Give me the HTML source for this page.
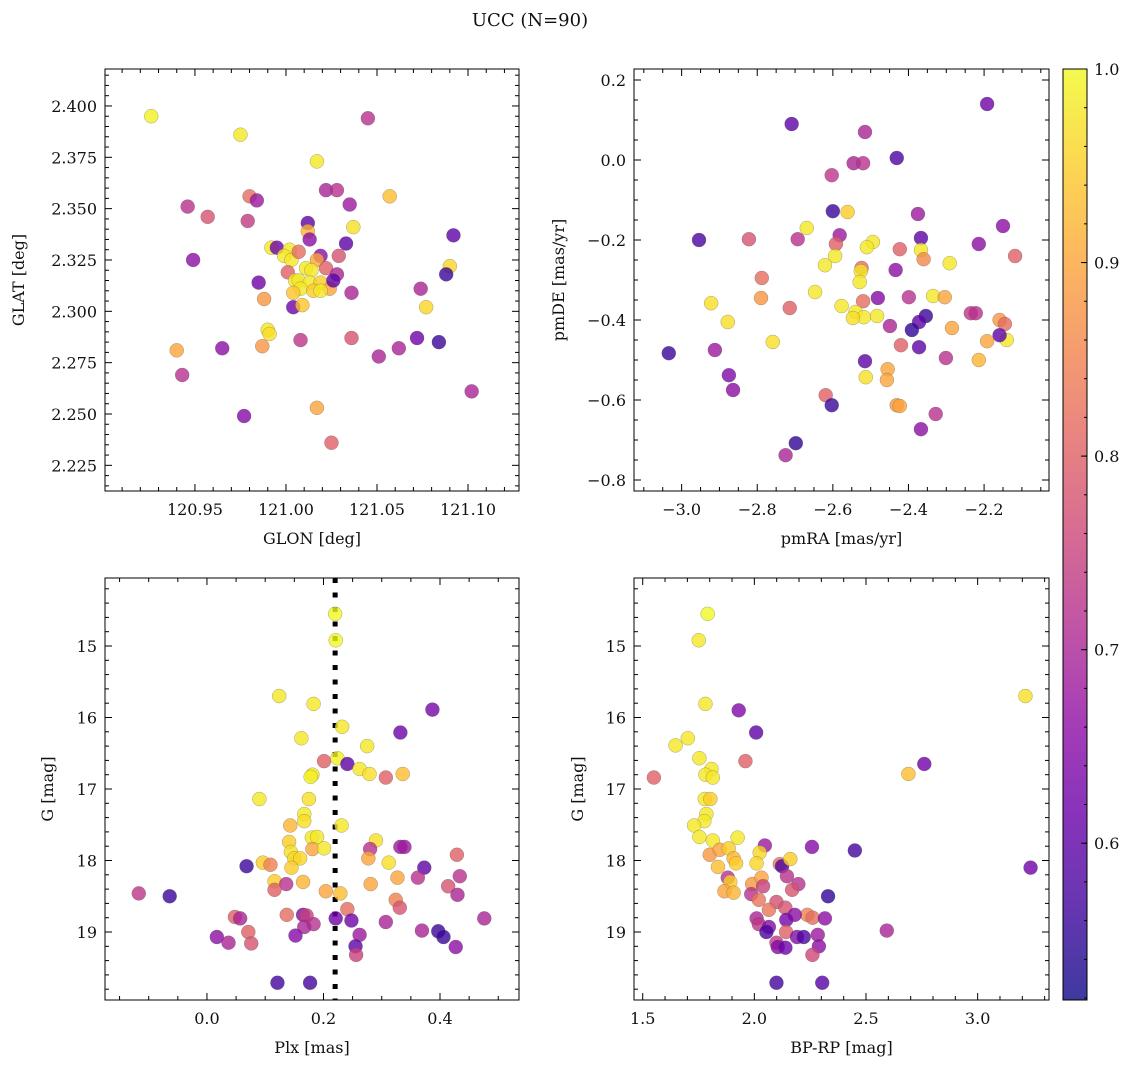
<!DOCTYPE html>
<html><head><meta charset="utf-8"><style>
body{margin:0;background:#fff;}
svg text{font-family:"DejaVu Serif","Liberation Serif",serif;fill:#111;}
</style></head><body>
<svg id="fig" width="1136" height="1068" viewBox="0 0 1136 1068" xmlns="http://www.w3.org/2000/svg">
<text x="530" y="26" font-size="18" text-anchor="middle">UCC (N=90)</text>
</svg>
<script>
// ---- Panel 1: GLON vs GLAT ----
const p1x=[120.926,120.975,121.045,121.017,120.946,120.957,120.980,120.984,120.979,120.949,121.022,121.028,121.035,121.057,121.037,121.012,121.012,121.013,121.033,121.092,121.090,121.074,121.077,121.088,121.008,121.036,121.072,121.084,120.965,121.062,121.051,120.940,120.943,121.102,121.017,120.977,121.025,120.990,120.991,120.987,
120.992,120.995,121.002,120.999,121.003,121.007,121.029,121.019,121.017,121.022,121.028,121.011,121.014,121.001,121.005,121.007,121.013,121.019,121.024,121.026,121.008,121.015,121.004,120.985,120.988,121.036,121.004,121.009,121.019];
const p1y=[2.395,2.386,2.394,2.373,2.351,2.346,2.356,2.354,2.344,2.325,2.359,2.359,2.352,2.356,2.341,2.343,2.339,2.335,2.333,2.337,2.322,2.311,2.302,2.318,2.286,2.287,2.287,2.285,2.282,2.282,2.278,2.281,2.269,2.261,2.253,2.249,2.236,2.291,2.289,2.283,
2.331,2.331,2.330,2.327,2.325,2.329,2.327,2.327,2.325,2.321,2.318,2.321,2.320,2.319,2.315,2.315,2.314,2.314,2.311,2.315,2.311,2.310,2.309,2.314,2.306,2.309,2.302,2.303,2.310];
const p1c=[0.99,0.98,0.72,0.98,0.72,0.78,0.82,0.68,0.74,0.66,0.7,0.72,0.68,0.93,0.97,0.6,0.92,0.66,0.6,0.6,0.96,0.7,0.96,0.56,0.73,0.78,0.62,0.56,0.66,0.7,0.7,0.9,0.72,0.7,0.9,0.65,0.8,0.98,0.97,0.88,
0.98,0.62,0.98,0.98,0.98,0.82,0.78,0.66,0.9,0.8,0.7,0.98,0.98,0.8,0.98,0.98,0.98,0.95,0.9,0.6,0.98,0.95,0.94,0.62,0.88,0.7,0.62,0.94,0.98];
// ---- Panel 2: pmRA vs pmDE ----
const p2x=[-2.192,-2.709,-2.515,-2.603,-2.431,-2.545,-2.520,-2.600,-2.561,-2.669,-2.375,-2.150,-2.954,-2.822,-2.693,-2.582,-2.494,-2.510,-2.367,-2.214,-2.423,-2.367,-2.592,-2.118,-2.594,-2.360,-2.524,-2.434,-2.291,-2.621,-2.526,-2.788,-2.529,-2.647,-2.790,-2.922,-2.335,-2.304,-2.399,-2.481,-2.714,-2.520,-2.577,-2.540,-2.518,-2.483,-2.547,-2.354,-2.235,-2.222,-2.159,-2.145,-2.372,-2.391,-2.449,-2.285,-2.878,-2.140,-2.159,-2.192,-2.372,-2.420,-2.759,-3.034,-2.912,-2.301,-2.214,-2.515,-2.455,-2.457,-2.513,-2.875,-2.864,-2.619,-2.603,-2.431,-2.423,-2.328,-2.367,-2.698,-2.725];
const p2y=[0.14,0.09,0.07,-0.038,0.005,-0.008,-0.008,-0.128,-0.13,-0.17,-0.135,-0.165,-0.2,-0.198,-0.198,-0.188,-0.205,-0.218,-0.195,-0.21,-0.223,-0.225,-0.21,-0.24,-0.24,-0.248,-0.27,-0.275,-0.258,-0.263,-0.278,-0.295,-0.305,-0.33,-0.345,-0.358,-0.34,-0.343,-0.343,-0.345,-0.37,-0.353,-0.365,-0.38,-0.393,-0.39,-0.395,-0.39,-0.383,-0.383,-0.4,-0.41,-0.405,-0.425,-0.415,-0.42,-0.405,-0.45,-0.438,-0.453,-0.468,-0.463,-0.455,-0.483,-0.475,-0.495,-0.5,-0.503,-0.523,-0.55,-0.543,-0.538,-0.575,-0.588,-0.613,-0.613,-0.615,-0.635,-0.673,-0.708,-0.738];
const p2c=[0.62,0.6,0.7,0.73,0.58,0.7,0.72,0.56,0.95,0.98,0.68,0.66,0.58,0.78,0.72,0.68,0.98,0.98,0.6,0.66,0.8,0.98,0.8,0.8,0.98,0.86,0.82,0.66,0.98,0.98,0.98,0.82,0.98,0.98,0.88,0.97,0.98,0.9,0.72,0.65,0.8,0.82,0.98,0.98,0.98,0.98,0.97,0.56,0.73,0.72,0.88,0.82,0.6,0.55,0.7,0.9,0.97,0.98,0.6,0.9,0.6,0.8,0.97,0.56,0.68,0.72,0.92,0.6,0.9,0.9,0.97,0.64,0.66,0.8,0.56,0.88,0.9,0.72,0.66,0.55,0.7];
// ---- Panel 3: Plx vs G ----
const p3x=[0.220,0.221,0.124,0.183,0.387,0.332,0.232,0.162,0.275,0.201,0.224,0.241,0.262,0.279,0.307,0.336,0.181,0.178,0.090,0.175,0.167,0.167,0.143,0.231,0.180,0.189,0.141,0.181,0.201,0.290,0.280,0.277,0.332,0.339,0.429,0.068,0.096,0.109,0.144,0.150,0.160,0.145,0.312,0.373,0.362,0.327,0.434,0.414,0.430,0.116,0.136,0.165,0.116,0.204,0.229,0.281,-0.117,-0.064,0.324,0.331,0.048,0.057,0.137,0.165,0.171,0.183,0.167,0.221,0.241,0.248,0.307,0.476,0.017,0.037,0.071,0.076,0.152,0.262,0.255,0.256,0.369,0.397,0.406,0.427,0.121,0.177];
const p3y=[14.55,14.92,15.70,15.81,15.89,16.21,16.13,16.29,16.40,16.61,16.57,16.65,16.72,16.79,16.84,16.79,16.80,16.83,17.14,17.14,17.35,17.45,17.51,17.51,17.68,17.67,17.74,17.84,17.83,17.72,17.84,17.97,17.81,17.81,17.92,18.08,18.03,18.06,17.88,17.97,17.97,18.10,18.03,18.10,18.24,18.24,18.22,18.36,18.48,18.29,18.33,18.30,18.41,18.43,18.46,18.33,18.46,18.50,18.55,18.66,18.79,18.81,18.76,18.76,18.77,18.89,18.93,18.81,18.68,18.84,18.86,18.81,19.07,19.15,19.00,19.16,19.05,19.04,19.20,19.32,18.98,18.99,19.07,19.21,19.71,19.71];
const p3c=[1.0,1.0,0.98,0.98,0.63,0.62,0.98,0.98,0.98,0.8,0.99,0.6,0.98,0.97,0.8,0.93,0.98,0.99,0.98,0.97,0.98,0.97,0.92,0.98,0.98,0.98,0.95,0.9,0.98,0.97,0.72,0.9,0.68,0.68,0.8,0.56,0.95,0.85,0.97,0.96,0.96,0.95,0.97,0.6,0.72,0.9,0.72,0.78,0.7,0.95,0.72,0.92,0.8,0.9,0.93,0.9,0.73,0.56,0.85,0.78,0.8,0.7,0.82,0.65,0.75,0.72,0.7,0.62,0.82,0.62,0.7,0.7,0.66,0.7,0.8,0.78,0.65,0.68,0.6,0.75,0.7,0.56,0.56,0.66,0.57,0.57];
// ---- Panel 4: BP-RP vs G ----
const p4x=[1.791,1.751,1.781,1.930,2.008,1.647,1.702,1.754,1.960,1.550,1.808,1.781,1.814,3.214,2.761,2.690,1.778,1.803,1.785,1.776,1.730,1.754,1.814,1.925,2.047,2.258,2.450,2.024,1.800,1.845,1.885,1.907,1.918,1.837,2.010,2.114,2.124,2.161,3.237,1.881,1.892,1.866,1.907,1.990,2.032,2.146,2.197,2.169,2.039,1.986,2.020,2.330,2.099,2.139,2.065,2.237,2.261,2.316,2.181,2.143,2.010,2.020,2.065,2.054,2.142,2.191,2.221,2.284,2.289,2.260,2.099,2.105,2.139,2.593,2.099,2.304];
const p4y=[14.55,14.92,15.81,15.90,16.21,16.39,16.29,16.57,16.61,16.84,16.72,16.80,16.84,15.70,16.65,16.79,17.14,17.14,17.35,17.45,17.51,17.67,17.72,17.68,17.79,17.81,17.86,17.89,17.92,17.85,17.83,17.97,18.04,18.09,18.04,18.05,18.08,17.98,18.10,18.24,18.30,18.43,18.45,18.33,18.24,18.22,18.33,18.41,18.36,18.47,18.55,18.50,18.58,18.66,18.69,18.76,18.80,18.81,18.76,18.83,18.81,18.89,18.93,19.00,19.00,19.07,19.07,19.04,19.20,19.32,19.15,19.21,19.22,18.98,19.71,19.71];
const p4c=[1.0,0.98,0.98,0.64,0.6,0.98,0.98,0.98,0.8,0.8,0.98,0.98,0.98,0.97,0.62,0.93,0.98,0.95,0.98,0.98,0.98,0.98,0.98,0.98,0.68,0.65,0.57,0.96,0.88,0.9,0.95,0.92,0.95,0.93,0.96,0.83,0.58,0.95,0.62,0.72,0.95,0.9,0.92,0.88,0.9,0.72,0.72,0.78,0.75,0.72,0.83,0.55,0.77,0.78,0.83,0.85,0.82,0.66,0.66,0.63,0.7,0.73,0.65,0.58,0.8,0.65,0.58,0.68,0.66,0.76,0.74,0.65,0.62,0.7,0.57,0.59];
// ---- colour bar ----
const cbTicks=[0.6,0.7,0.8,0.9,1.0];
const cbMin=0.519, cbMax=1.0;
const plasma=[[13,8,135],[65,4,157],[106,0,168],[143,13,164],[177,42,144],[204,71,120],[225,100,98],[242,132,75],[252,166,54],[252,206,37],[240,249,33]];
function cmap(v){let t=(v-cbMin)/(cbMax-cbMin);t=Math.max(0,Math.min(1,t))*10;const i=Math.min(9,Math.floor(t)),f=t-i;const a=plasma[i],b=plasma[i+1];
return 'rgb('+a.map((q,k)=>Math.round(q+(b[k]-q)*f)).join(',')+')';}
const NS='http://www.w3.org/2000/svg';
const fig=document.getElementById('fig');
function mk(tag,attrs,parent){const e=document.createElementNS(NS,tag);for(const k in attrs)e.setAttribute(k,attrs[k]);(parent||fig).appendChild(e);return e;}
function fmt(v,d){return v.toFixed(d).replace('-','\u2212');}
function panel(o){
  const g=mk('g',{});
  
  
  const X=v=>o.L+(v-o.x0)/(o.x1-o.x0)*(o.R-o.L);
  const Y=v=>o.B-(v-o.y0)/(o.y1-o.y0)*(o.B-o.T);
  if(o.vline!==undefined){const l=mk('line',{x1:X(o.vline),x2:X(o.vline),y1:o.T,y2:o.B,stroke:'#000','stroke-width':5,'stroke-dasharray':'5 9.5'},g);
    
    }
  for(let i=0;i<o.xs.length;i++){
    const c=mk('circle',{cx:X(o.xs[i]),cy:Y(o.ys[i]),r:7,fill:cmap(o.cs[i]),'fill-opacity':0.8,stroke:'#555','stroke-opacity':0.5,'stroke-width':0.5},g);
    
    
  }
  const fr=mk('rect',{x:o.L,y:o.T,width:o.R-o.L,height:o.B-o.T,fill:'none',stroke:'#000','stroke-width':1},g);
  
  
  const lo=Math.min(o.x0,o.x1),hi=Math.max(o.x0,o.x1);
  for(let k=Math.ceil(lo/o.xm-1e-6);k*o.xm<=hi+1e-9;k++){const v=k*o.xm,x=X(v);if(x<o.L-0.5||x>o.R+0.5)continue;const maj=Math.abs(v/o.xM-Math.round(v/o.xM))<1e-6;const L=maj?7:4;
    mk('line',{x1:x,x2:x,y1:o.B,y2:o.B-L,stroke:'#000','stroke-width':1},g);mk('line',{x1:x,x2:x,y1:o.T,y2:o.T+L,stroke:'#000','stroke-width':1},g);
    if(maj){const t=mk('text',{x:x,y:o.B+24,'font-size':16,'text-anchor':'middle'},g);t.textContent=fmt(v,o.xd);
      
      }}
  const ylo=Math.min(o.y0,o.y1),yhi=Math.max(o.y0,o.y1);
  for(let k=Math.ceil(ylo/o.ym-1e-6);k*o.ym<=yhi+1e-9;k++){const v=k*o.ym,y=Y(v);const maj=Math.abs(v/o.yM-Math.round(v/o.yM))<1e-6;const L=maj?7:4;
    mk('line',{x1:o.L,x2:o.L+L,y1:y,y2:y,stroke:'#000','stroke-width':1},g);mk('line',{x1:o.R,x2:o.R-L,y1:y,y2:y,stroke:'#000','stroke-width':1},g);
    if(maj){const t=mk('text',{x:o.L-8,y:y+6,'font-size':16,'text-anchor':'end'},g);t.textContent=fmt(v,o.yd);
      
      }}
  const xl=mk('text',{x:(o.L+o.R)/2,y:o.B+53,'font-size':16,'text-anchor':'middle'},g);xl.textContent=o.xlab;
  
  
  const yl=mk('text',{x:0,y:0,'font-size':16,'text-anchor':'middle',transform:'translate('+o.ylx+','+(o.T+o.B)/2+') rotate(-90)'},g);yl.textContent=o.ylab;
  
  
}
panel({name:'glon-glat-panel',L:105,R:519,T:69,B:491,x0:120.9006,x1:121.128,y0:2.2125,y1:2.418,xm:0.01,xM:0.05,xd:2,ym:0.005,yM:0.025,yd:3,xs:p1x,ys:p1y,cs:p1c,xlab:'GLON [deg]',ylab:'GLAT [deg]',ylx:24});
panel({name:'proper-motion-panel',L:634,R:1049,T:69,B:491,x0:-3.126,x1:-2.0283,y0:-0.8275,y1:0.2275,xm:0.05,xM:0.2,xd:1,ym:0.05,yM:0.2,yd:1,xs:p2x,ys:p2y,cs:p2c,xlab:'pmRA [mas/yr]',ylab:'pmDE [mas/yr]',ylx:564});
panel({name:'parallax-panel',L:105,R:519,T:578,B:1000,x0:-0.175,x1:0.5356,y0:19.951,y1:14.049,xm:0.05,xM:0.2,xd:1,ym:0.2,yM:1,yd:0,xs:p3x,ys:p3y,cs:p3c,xlab:'Plx [mas]',ylab:'G [mag]',ylx:53,vline:0.22});
panel({name:'cmd-panel',L:634,R:1049,T:578,B:1000,x0:1.461,x1:3.3195,y0:19.951,y1:14.049,xm:0.1,xM:0.5,xd:1,ym:0.2,yM:1,yd:0,xs:p4x,ys:p4y,cs:p4c,xlab:'BP-RP [mag]',ylab:'G [mag]',ylx:583});
// colorbar
(function(){
  const L=1063,R=1087,T=69,B=1000;
  const g=mk('g',{});
  
  
  const defs=mk('defs',{},g);const lg=mk('linearGradient',{id:'cbg',x1:0,y1:1,x2:0,y2:0},defs);
  for(let i=0;i<=20;i++){const v=cbMin+(cbMax-cbMin)*i/20;mk('stop',{offset:i/20,'stop-color':cmap(v),'stop-opacity':0.8},lg);}
  mk('rect',{x:L,y:T,width:R-L,height:B-T,fill:'url(#cbg)',stroke:'#000','stroke-width':1},g);
  const Y=v=>B-(v-cbMin)/(cbMax-cbMin)*(B-T);
  for(let k=26;k<=50;k++){const v=k*0.02,y=Y(v);if(y<T-0.5)continue;mk('line',{x1:R,x2:R-3,y1:y,y2:y,stroke:'#000','stroke-width':1},g);}
  cbTicks.forEach(v=>{const y=Y(v);mk('line',{x1:R,x2:R-6,y1:y,y2:y,stroke:'#000','stroke-width':1},g);
    const t=mk('text',{x:R+7,y:y+6,'font-size':16},g);t.textContent=v.toFixed(1);
    
    });
})();
</script>
</body></html>
